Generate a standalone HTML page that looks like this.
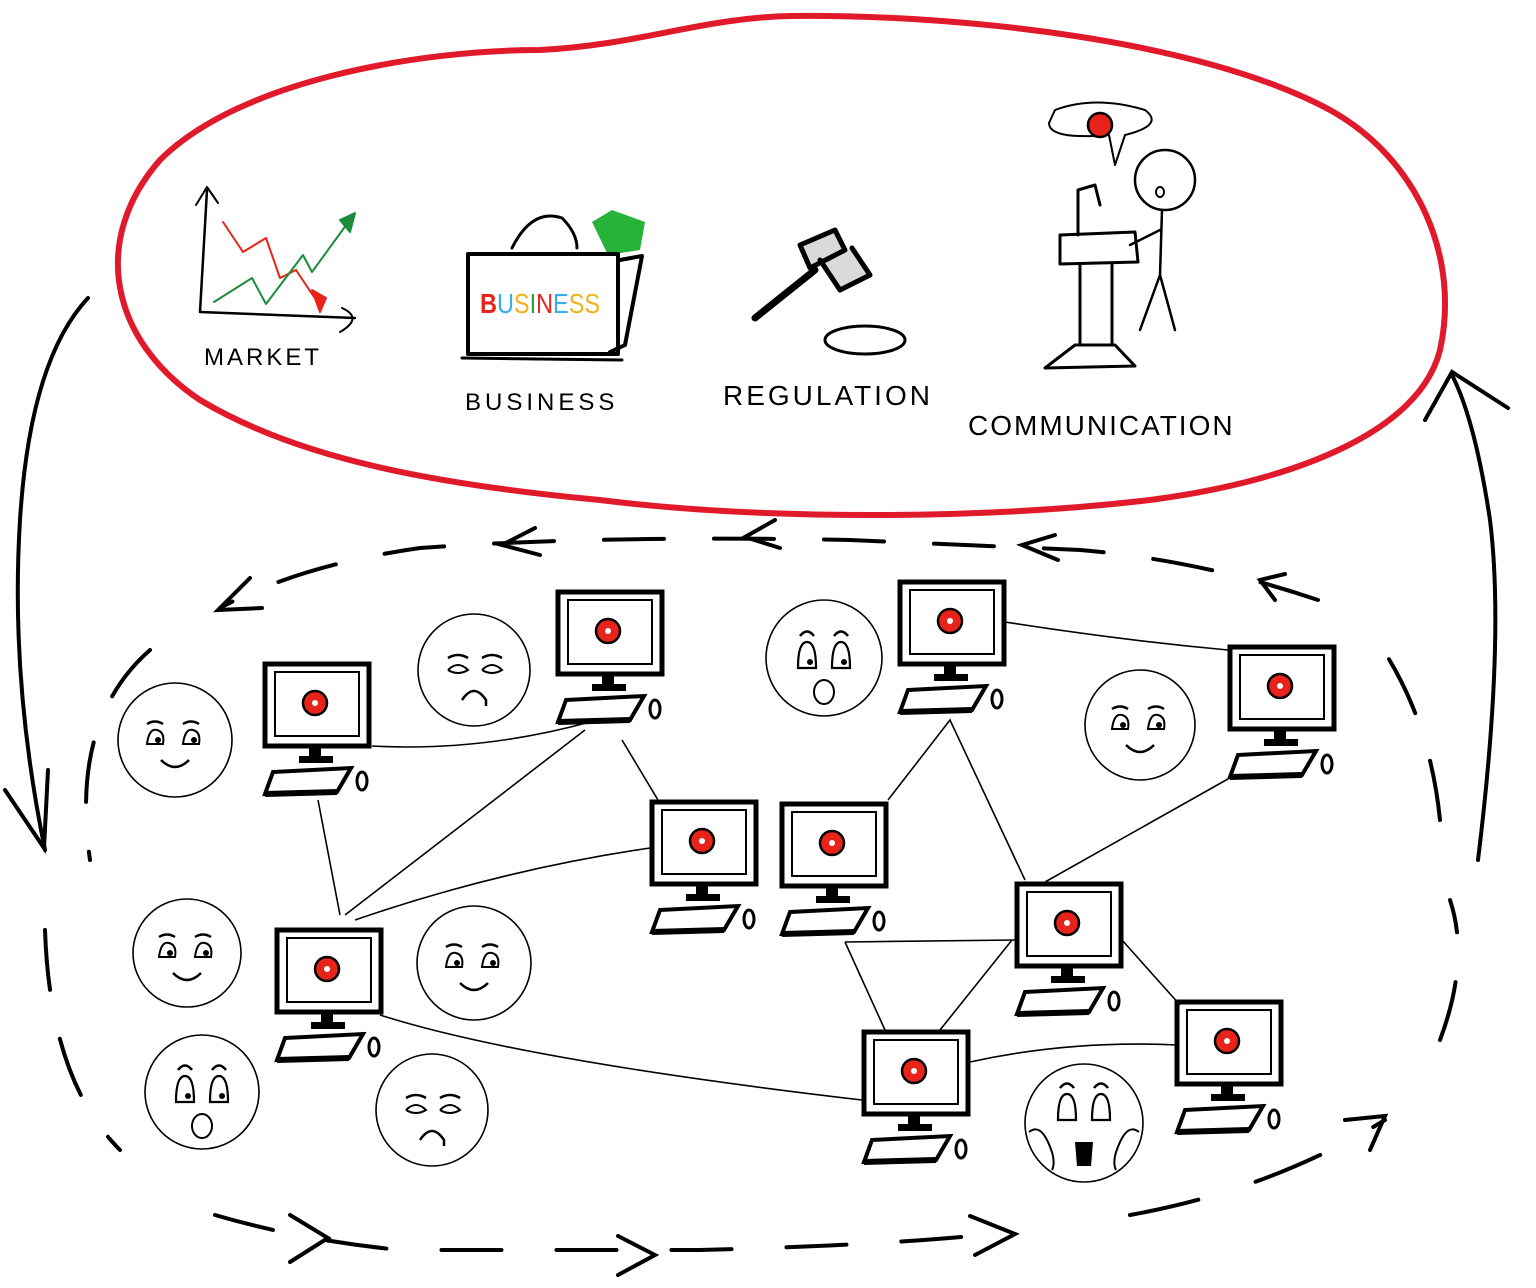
<!DOCTYPE html>
<html><head><style>
html,body{margin:0;padding:0;background:#fff;}
svg{display:block;}
text{font-family:"Liberation Sans",sans-serif;}
</style></head><body>
<svg width="1536" height="1288" viewBox="0 0 1536 1288" xmlns="http://www.w3.org/2000/svg">
<defs>
<g id="pc">
  <rect x="2" y="4" width="104" height="82" fill="none" stroke="#000" stroke-width="5"/>
  <rect x="12" y="12" width="84" height="64" fill="none" stroke="#000" stroke-width="2"/>
  <circle cx="52" cy="43" r="12" fill="#e8231a" stroke="#000" stroke-width="2.5"/>
  <circle cx="52" cy="43" r="3" fill="#fff"/>
  <rect x="46" y="86" width="12" height="10" fill="#000"/>
  <rect x="36" y="96" width="34" height="7" fill="#000"/>
  <path d="M10 112 L88 108 L74 132 L2 134 Z" fill="none" stroke="#000" stroke-width="4"/>
  <path d="M2 134 L74 132" stroke="#000" stroke-width="6"/>
  <ellipse cx="99" cy="121" rx="5" ry="9" fill="none" stroke="#000" stroke-width="3"/>
</g>
<g id="fhappy">
  <path d="M-28 -16 q8 -5 16 0 M8 -16 q8 -5 16 0" fill="none" stroke="#000" stroke-width="2.5"/>
  <path d="M-28 4 q2 -16 10 -14 q8 2 6 14 Z M8 4 q2 -16 10 -14 q8 2 6 14 Z" fill="none" stroke="#000" stroke-width="2"/>
  <circle cx="-17" cy="0" r="3" fill="#000"/><circle cx="19" cy="0" r="3" fill="#000"/>
  <path d="M-14 20 q14 14 28 0" fill="none" stroke="#000" stroke-width="2.5"/>
</g>
<g id="fsad">
  <path d="M-26 -12 q10 -6 20 0 M8 -12 q10 -6 20 0" fill="none" stroke="#000" stroke-width="2.5"/>
  <path d="M-26 0 q10 -10 20 0 q-10 6 -20 0 M8 0 q10 -10 20 0 q-10 6 -20 0" fill="none" stroke="#000" stroke-width="2"/>
  <path d="M-12 30 q12 -18 24 0 l0 6" fill="none" stroke="#000" stroke-width="2.5"/>
</g>
<g id="fwow">
  <path d="M-24 -24 q7 -9 14 0 M10 -24 q7 -9 14 0" fill="none" stroke="#000" stroke-width="2.5"/>
  <path d="M-26 8 q0 -26 9 -26 q9 0 9 26 Z M8 8 q0 -26 9 -26 q9 0 9 26 Z" fill="none" stroke="#000" stroke-width="2.2"/>
  <circle cx="-14" cy="2" r="3" fill="#000"/><circle cx="20" cy="2" r="3" fill="#000"/>
  <ellipse cx="0" cy="32" rx="10" ry="12" fill="none" stroke="#000" stroke-width="2"/>
</g>
</defs>

<path d="M160 160 C240 80 420 50 540 50 C640 45 700 18 790 16 C960 14 1200 40 1330 110 C1420 160 1460 260 1440 350 C1420 430 1300 480 1150 500 C980 520 760 520 600 500 C440 485 300 460 200 400 C110 340 90 240 160 160 Z" fill="none" stroke="#e01a2b" stroke-width="6"/>

<g fill="none" stroke-linecap="round" stroke-linejoin="round">
<path d="M207 190 L200 312 L355 318" stroke="#000" stroke-width="2.5"/>
<path d="M196 205 L207 187 L218 203" stroke="#000" stroke-width="2"/>
<path d="M342 308 q22 10 -2 24" stroke="#000" stroke-width="2"/>
<path d="M223 222 L243 252 L266 238 L280 278 L296 270 L316 300" stroke="#e8231a" stroke-width="2"/>
<path d="M312 290 L320 312 L326 298 Z" stroke="#e8231a" fill="#e8231a" stroke-width="2"/>
<path d="M214 302 L252 278 L266 304 L303 255 L312 272 L352 217" stroke="#1a8c3a" stroke-width="2"/>
<path d="M340 220 L355 213 L350 232 Z" fill="#1a8c3a" stroke="#1a8c3a" stroke-width="2"/>
<text x="204" y="365" font-size="24" letter-spacing="3" fill="#000" stroke="none">MARKET</text>

<path d="M592 222 L612 210 L645 222 L640 250 L608 255 Z" fill="#27b23a" stroke="none"/>
<path d="M512 248 q20 -40 50 -30 q15 15 15 30" stroke="#000" stroke-width="3"/>
<rect x="468" y="254" width="150" height="100" stroke="#000" stroke-width="4"/>
<path d="M620 260 L642 256 L625 345 L610 352" stroke="#000" stroke-width="4"/>
<path d="M462 358 L622 360" stroke="#000" stroke-width="3"/>
<text x="480" y="313" font-size="28" stroke="none" textLength="120" lengthAdjust="spacingAndGlyphs"><tspan fill="#e8231a" font-weight="bold">B</tspan><tspan fill="#3aaee8">U</tspan><tspan fill="#f2b21e">S</tspan><tspan fill="#27a33a">I</tspan><tspan fill="#e8231a">N</tspan><tspan fill="#3aaee8">E</tspan><tspan fill="#f2b21e">SS</tspan></text>
<text x="465" y="410" font-size="24" letter-spacing="4" fill="#000" stroke="none">BUSINESS</text>

<path d="M800 245 L835 230 L845 250 L810 268 Z M820 260 L840 290 L870 275 L852 248" stroke="#000" stroke-width="5" fill="#000" fill-opacity="0.15"/>
<path d="M815 270 L755 318" stroke="#000" stroke-width="7"/>
<ellipse cx="865" cy="340" rx="40" ry="14" stroke="#000" stroke-width="3"/>
<text x="723" y="405" font-size="28" letter-spacing="3" fill="#000" stroke="none">REGULATION</text>

<path d="M1055 110 q40 -15 90 0 q20 15 -20 25 l-10 30 l-6 -30 q-60 5 -60 -12 Z" stroke="#000" stroke-width="2"/>
<circle cx="1100" cy="125" r="12" fill="#e8231a" stroke="#000" stroke-width="2.5"/>
<circle cx="1165" cy="180" r="30" stroke="#000" stroke-width="2.5"/>
<ellipse cx="1160" cy="192" rx="4" ry="5" stroke="#000" stroke-width="2"/>
<path d="M1162 210 L1160 275 L1140 330 M1160 275 L1175 330 M1160 230 L1130 245" stroke="#000" stroke-width="2.5"/>
<path d="M1060 235 L1135 232 L1138 262 L1060 264 Z" stroke="#000" stroke-width="3"/>
<path d="M1080 264 L1080 345 M1112 264 L1112 345 M1075 345 L1045 368 L1135 366 L1115 345 Z" stroke="#000" stroke-width="3"/>
<path d="M1078 235 L1078 190 L1095 185 L1100 205" stroke="#000" stroke-width="3"/>
<text x="968" y="435" font-size="28" letter-spacing="2" fill="#000" stroke="none">COMMUNICATION</text>
</g>

<g stroke="#000" stroke-width="1.6" fill="none">
<path d="M372 746 Q480 752 590 722"/>
<path d="M318 800 L340 915"/>
<path d="M345 915 L585 730"/>
<path d="M355 920 Q500 870 650 848"/>
<path d="M622 740 L658 800"/>
<path d="M1005 622 Q1120 640 1228 650"/>
<path d="M888 800 L950 720 L1025 880"/>
<path d="M1045 882 L1235 775"/>
<path d="M845 942 L1015 940"/>
<path d="M845 942 L885 1030"/>
<path d="M940 1030 L1012 940"/>
<path d="M1122 940 L1180 1005"/>
<path d="M970 1062 Q1070 1040 1177 1045"/>
<path d="M380 1015 Q520 1060 862 1100"/>
</g>

<use href="#pc" x="263" y="660"/>
<use href="#pc" x="556" y="588"/>
<use href="#pc" x="898" y="578"/>
<use href="#pc" x="1228" y="643"/>
<use href="#pc" x="650" y="798"/>
<use href="#pc" x="780" y="800"/>
<use href="#pc" x="1015" y="880"/>
<use href="#pc" x="275" y="926"/>
<use href="#pc" x="862" y="1028"/>
<use href="#pc" x="1175" y="998"/>

<g fill="none" stroke="#000" stroke-width="1.6">
<circle cx="175" cy="740" r="57"/><circle cx="474" cy="670" r="56"/>
<circle cx="824" cy="658" r="58"/><circle cx="1140" cy="725" r="55"/>
<circle cx="187" cy="953" r="54"/><circle cx="474" cy="963" r="57"/>
<circle cx="202" cy="1092" r="57"/><circle cx="432" cy="1110" r="56"/>
<circle cx="1084" cy="1123" r="59"/>
</g>
<use href="#fhappy" x="175" y="740"/>
<use href="#fsad" x="474" y="670"/>
<use href="#fwow" x="824" y="660"/>
<use href="#fhappy" x="1140" y="725"/>
<use href="#fhappy" x="187" y="953"/>
<use href="#fhappy" x="474" y="963"/>
<use href="#fwow" x="202" y="1094"/>
<use href="#fsad" x="432" y="1110"/>
<g transform="translate(1084 1112)">
<path d="M-24 -24 q7 -9 14 0 M10 -24 q7 -9 14 0" fill="none" stroke="#000" stroke-width="2.5"/>
<path d="M-26 8 q0 -26 9 -26 q9 0 9 26 Z M8 8 q0 -26 9 -26 q9 0 9 26 Z" fill="none" stroke="#000" stroke-width="2.2"/>
<path d="M-9 30 L9 30 L7 54 L-7 54 Z" fill="#000"/>
<path d="M-55 20 q10 -8 18 8 q10 20 5 30 M55 20 q-10 -8 -18 8 q-10 20 -5 30" fill="none" stroke="#000" stroke-width="2"/>
</g>

<g fill="none" stroke="#000" stroke-width="4" stroke-linecap="round">
<path d="M1318 600 Q1200 560 1080 550 L850 540 Q600 535 420 548 Q300 565 220 608" stroke-dasharray="60 50"/>
<path d="M150 650 Q70 720 90 860" stroke-dasharray="60 50"/>
<path d="M45 930 Q50 1080 120 1150" stroke-dasharray="60 50"/>
<path d="M215 1215 Q300 1240 400 1250 L700 1250 Q900 1245 1010 1232" stroke-dasharray="60 55"/>
<path d="M1130 1215 Q1270 1190 1385 1120" stroke-dasharray="70 60"/>
<path d="M1440 1040 Q1470 960 1450 900" stroke-dasharray="60 50"/>
<path d="M1440 820 Q1430 720 1380 645" stroke-dasharray="60 50"/>
<path d="M535 528 L502 545 L540 555"/>
<path d="M775 520 L745 537 L780 548"/>
<path d="M1055 535 L1022 545 L1058 560"/>
<path d="M1285 574 L1260 580 L1275 600"/>
<path d="M250 578 L218 610 L262 608"/>
<path d="M290 1215 L328 1238 L290 1262"/>
<path d="M618 1236 L655 1255 L618 1275"/>
<path d="M970 1216 L1015 1234 L975 1255"/>
<path d="M1345 1120 L1385 1116 L1370 1150"/>
<path d="M88 298 Q30 360 20 520 Q10 680 45 850"/>
<path d="M5 790 L44 848 L48 770"/>
<path d="M1478 860 Q1505 640 1490 520 Q1475 420 1452 375"/>
<path d="M1425 420 L1452 372 L1508 408"/>
</g>
</svg>
</body></html>
